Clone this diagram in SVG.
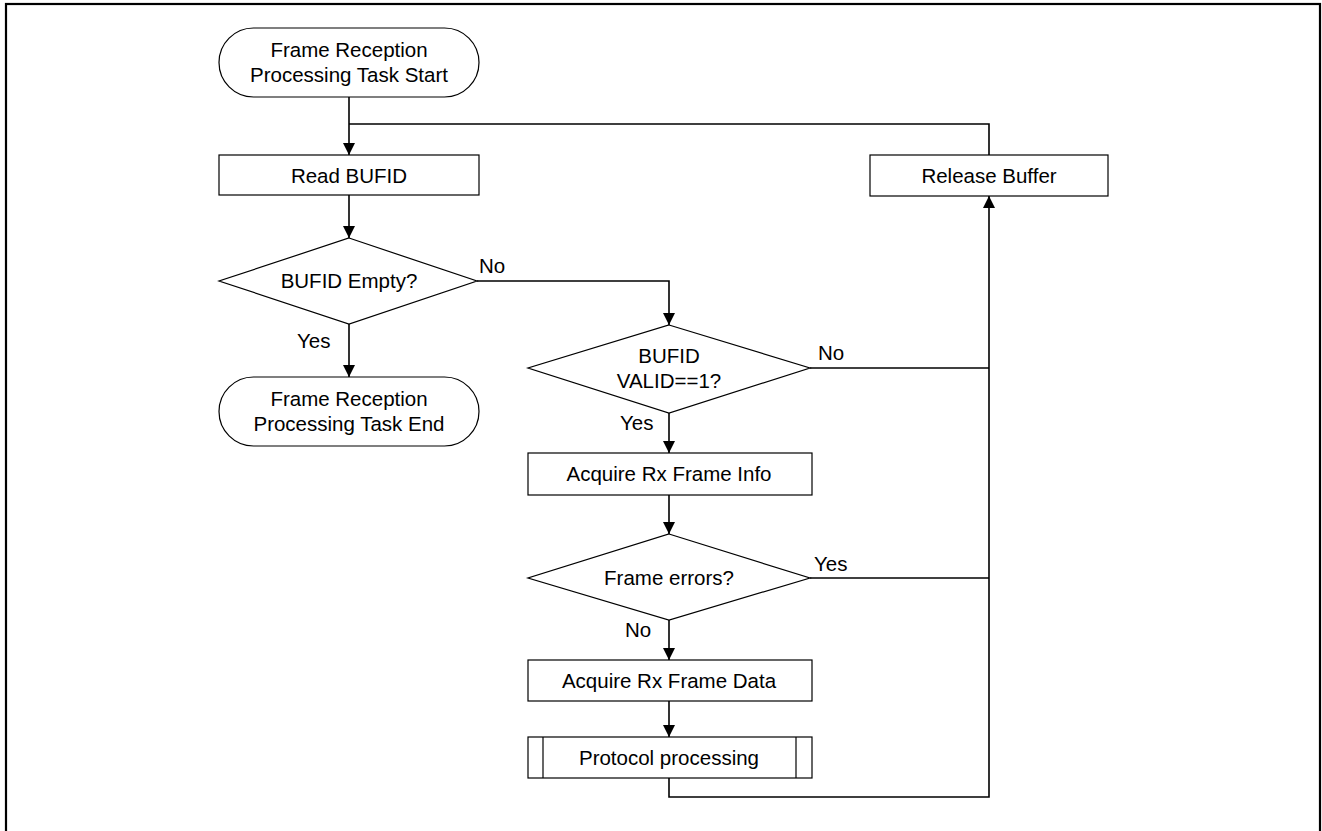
<svg xmlns="http://www.w3.org/2000/svg" width="1322" height="831" viewBox="0 0 1322 831">
<style>
.n{fill:#fff;stroke:#000;stroke-width:1.2}
.t{font-family:"Liberation Sans",Arial,sans-serif;font-size:20.5px;fill:#000;text-anchor:middle}
.l{font-family:"Liberation Sans",Arial,sans-serif;font-size:20.5px;fill:#000}
.c{fill:none;stroke:#000;stroke-width:1.6}
</style>
<defs>
<marker id="a" viewBox="0 0 12 12" refX="12" refY="6" markerWidth="12" markerHeight="12" markerUnits="userSpaceOnUse" orient="auto">
<path d="M0,0 L12,6 L0,12 Z" fill="#000"/>
</marker>
</defs>
<rect x="6" y="4" width="1314" height="840" fill="none" stroke="#000" stroke-width="2.2"/>
<g id="connectors">
<path class="c" d="M349,97 V155" marker-end="url(#a)"/>
<path class="c" d="M989,155 V124 H349"/>
<path class="c" d="M349,195 V238" marker-end="url(#a)"/>
<path class="c" d="M349,324 V377" marker-end="url(#a)"/>
<path class="c" d="M477,281 H669 V325" marker-end="url(#a)"/>
<path class="c" d="M669,413 V453" marker-end="url(#a)"/>
<path class="c" d="M669,495 V534" marker-end="url(#a)"/>
<path class="c" d="M669,620 V660" marker-end="url(#a)"/>
<path class="c" d="M669,701 V737" marker-end="url(#a)"/>
<path class="c" d="M669,778 V797 H989 V196" marker-end="url(#a)"/>
<path class="c" d="M810,368 H989"/>
<path class="c" d="M810,578 H989"/>
<text class="l" x="479" y="273">No</text>
<text class="l" x="297" y="348">Yes</text>
<text class="l" x="818" y="360">No</text>
<text class="l" x="620" y="430">Yes</text>
<text class="l" x="814" y="571">Yes</text>
<text class="l" x="625" y="637">No</text>
</g>
<g id="start">
<rect class="n" x="219" y="28" width="260" height="69" rx="34.5"/>
<text class="t" x="349" y="57">Frame Reception</text>
<text class="t" x="349" y="82">Processing Task Start</text>
</g>
<g id="read">
<rect class="n" x="219" y="155" width="260" height="40"/>
<text class="t" x="349" y="183">Read BUFID</text>
</g>
<g id="empty">
<polygon class="n" points="349,238 477,281 349,324 219,281"/>
<text class="t" x="349" y="288">BUFID Empty?</text>
</g>
<g id="end">
<rect class="n" x="219" y="377" width="260" height="69" rx="34.5"/>
<text class="t" x="349" y="406">Frame Reception</text>
<text class="t" x="349" y="431">Processing Task End</text>
</g>
<g id="valid">
<polygon class="n" points="669,325 810,368 669,413 528,368"/>
<text class="t" x="669" y="363">BUFID</text>
<text class="t" x="669" y="388">VALID==1?</text>
</g>
<g id="info">
<rect class="n" x="528" y="453" width="284" height="42"/>
<text class="t" x="669" y="481">Acquire Rx Frame Info</text>
</g>
<g id="errors">
<polygon class="n" points="669,534 810,578 669,620 528,578"/>
<text class="t" x="669" y="585">Frame errors?</text>
</g>
<g id="data">
<rect class="n" x="528" y="660" width="284" height="41"/>
<text class="t" x="669" y="688">Acquire Rx Frame Data</text>
</g>
<g id="protocol">
<rect class="n" x="528" y="737" width="284" height="41"/>
<line class="n" x1="543" y1="737" x2="543" y2="778"/>
<line class="n" x1="796" y1="737" x2="796" y2="778"/>
<text class="t" x="669" y="765">Protocol processing</text>
</g>
<g id="release">
<rect class="n" x="870" y="155" width="238" height="41"/>
<text class="t" x="989" y="183">Release Buffer</text>
</g>
</svg>
